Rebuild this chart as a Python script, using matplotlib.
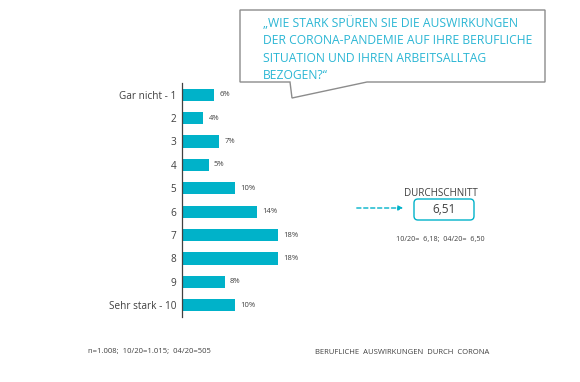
import matplotlib.pyplot as plt
from matplotlib.patches import Polygon, FancyBboxPatch

plt.rcParams['font.family'] = ['Open Sans', 'DejaVu Sans']

categories = ['Gar nicht - 1', '2', '3', '4', '5', '6', '7', '8', '9', 'Sehr stark - 10']
values = [6, 4, 7, 5, 10, 14, 18, 18, 8, 10]
question = '\u201eWIE STARK SP\u00dcREN SIE DIE AUSWIRKUNGEN\nDER CORONA-PANDEMIE AUF IHRE BERUFLICHE\nSITUATION UND IHREN ARBEITSALLTAG\nBEZOGEN?\u201c'
avg_title = 'DURCHSCHNITT'
avg_value = '6,51'
avg_prev = '10/20=  6,18;  04/20=  6,50'
footer_left = 'n=1.008;  10/20=1.015;  04/20=505'
footer_right = 'BERUFLICHE  AUSWIRKUNGEN  DURCH  CORONA'

W, H = 580, 382
cyan = '#00b2c9'
txt = '#404040'

fig = plt.figure(figsize=(W / 100, H / 100), dpi=100)

# bar chart
ax = fig.add_axes([182 / W, 1 - 317 / H, 160 / W, 234 / H])
y = list(range(len(categories)))
ax.barh(y, values, height=0.52, color=cyan)
for yi, v in zip(y, values):
    ax.text(v + 1.0, yi, f'{v}%', va='center', ha='left', fontsize=5.5, color=txt)
ax.set_xlim(0, 30)
ax.set_ylim(len(categories) - 0.5, -0.5)
ax.set_yticks(y)
ax.set_yticklabels(categories, fontsize=7.2, color=txt)
ax.tick_params(axis='y', length=0, pad=4)
ax.set_xticks([])
for s in ['top', 'right', 'bottom']:
    ax.spines[s].set_visible(False)
ax.spines['left'].set_color('#404040')
ax.spines['left'].set_linewidth(0.9)

# overlay in pixel coords
ov = fig.add_axes([0, 0, 1, 1])
ov.set_xlim(0, W)
ov.set_ylim(H, 0)
ov.axis('off')

bubble = Polygon([(240, 10), (545, 10), (545, 82), (367, 82), (292, 98),
                  (290, 82), (240, 82)], closed=True, facecolor='white',
                 edgecolor='#8c8c8c', linewidth=1.0)
ov.add_patch(bubble)
ov.text(263, 16, question, ha='left', va='top', fontsize=8.7, color='#2bb6d4',
        linespacing=1.45)

ov.text(441, 193, avg_title, ha='center', va='center', fontsize=7.1, color=txt)
box = FancyBboxPatch((414, 199), 60, 21, boxstyle='round,pad=0,rounding_size=4',
                     facecolor='white', edgecolor=cyan, linewidth=1.0)
ov.add_patch(box)
ov.text(444, 209.5, avg_value, ha='center', va='center', fontsize=8.5, color=txt)
ov.annotate('', xy=(406, 208), xytext=(354, 208),
            arrowprops=dict(arrowstyle='-|>', color=cyan, lw=1.0,
                            linestyle=(0, (3, 2)), mutation_scale=7))
ov.text(440, 239, avg_prev, ha='center', va='center', fontsize=5.2, color=txt)

ov.text(88, 352, footer_left, ha='left', va='center', fontsize=5.5, color=txt)
ov.text(315, 352, footer_right, ha='left', va='center', fontsize=5.5, color=txt)

fig.savefig('out.png', dpi=100)
